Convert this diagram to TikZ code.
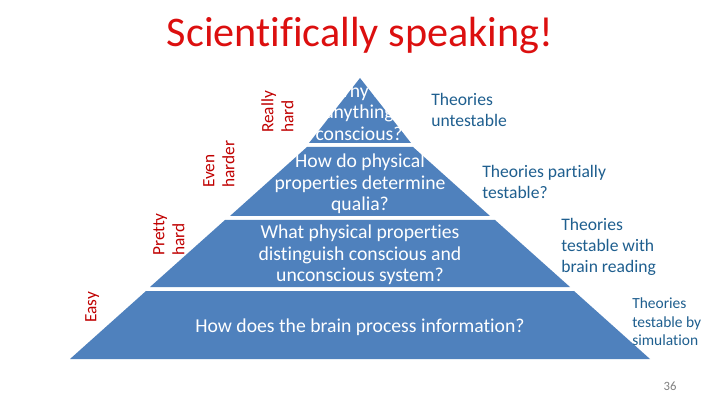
\documentclass[tikz,border=0pt]{standalone}
\usepackage{fontspec}
\setmainfont[Ligatures=NoCommon]{Carlito}
\usepackage{xcolor}

\definecolor{tierblue}{HTML}{4F81BD}
\definecolor{levelred}{HTML}{C00000}
\definecolor{titlered}{HTML}{DC0F0F}
\definecolor{testblue}{HTML}{1F5F8F}

\begin{document}
\begin{tikzpicture}[x=0.025cm, y=-0.025cm]
    % Styles
    \tikzstyle{tier} = [fill=tierblue]
    \tikzstyle{question} = [text=white, align=center, inner sep=0pt, font=\fontsize{14}{15.3}\selectfont]
    \tikzstyle{level} = [text=levelred, rotate=90, anchor=north west, align=left, inner sep=0pt, font=\fontsize{12.3}{14.2}\selectfont]
    \tikzstyle{testable} = [text=testblue, anchor=north west, align=left, inner sep=0pt, font=\fontsize{12.5}{15}\selectfont]

    % Page
    \fill [white] (0,0) rectangle (720,405);
    \useasboundingbox (0,0) rectangle (720,405);

    % Pyramid tiers
    \fill [tier] (360,78) -- (411,143) -- (309,143) -- cycle;
    \fill [tier] (307,147) -- (413,147) -- (490,216) -- (230,216) -- cycle;
    \fill [tier] (225,220) -- (495,220) -- (570,287) -- (150,287) -- cycle;
    \fill [tier] (146,291) -- (574,291) -- (650,359) -- (70,359) -- cycle;

    % Nodes
    \node [text=titlered, anchor=base, font=\fontsize{30}{36}\selectfont] (title) at (360,47) {Scientifically speaking!};

    \node [question] (why) at (359,112) {Why is\\anything\\conscious?};
    \node [question] (qualia) at (360,184) {How do physical\\properties determine\\qualia?};
    \node [question] (distinguish) at (360,255) {What physical properties\\distinguish conscious and\\unconscious system?};
    \node [question] (process) at (360,327) {How does the brain process information?};

    \node [level] (reallyhard) at (261,133) {Really\\hard};
    \node [level] (evenharder) at (203,188) {Even\\harder};
    \node [level] (prettyhard) at (153,256) {Pretty\\hard};
    \node [level] (easy) at (85,323) {Easy};

    \node [testable] (untestable) at (431,93) {Theories\\untestable};
    \node [testable] (partial) at (482,165) {Theories partially\\testable?};
    \node [testable] (brainreading) at (561,218) {Theories\\testable with\\brain reading};
    \node [testable, font=\fontsize{11}{13.5}\selectfont] (simulation) at (632,297) {Theories\\testable by\\simulation};

    \node [text=gray, font=\fontsize{9}{10}\selectfont] (pagenum) at (670,386) {36};
\end{tikzpicture}
\end{document}
